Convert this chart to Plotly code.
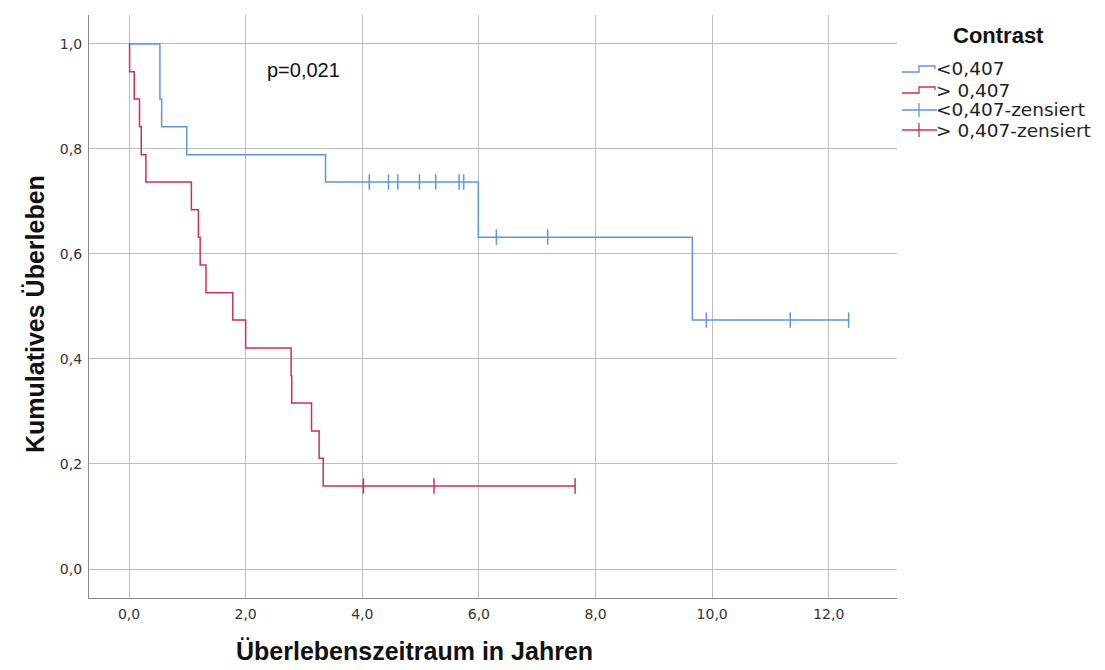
import plotly.graph_objects as go

# ---- data ----
blue_times = [0.0, 0.53, 0.56, 0.99, 3.37, 5.99, 9.66, 12.34]
blue_surv = [1.0, 0.895, 0.842, 0.789, 0.737, 0.632, 0.474, 0.474]
blue_cens_times = [4.12, 4.45, 4.61, 4.98, 5.26, 5.66, 5.74, 6.30, 7.18, 9.90, 11.34, 12.34]
blue_cens_surv = [0.737, 0.737, 0.737, 0.737, 0.737, 0.737, 0.737, 0.632, 0.632, 0.474, 0.474, 0.474]

red_times = [0.0, 0.01, 0.09, 0.18, 0.21, 0.29, 1.07, 1.19, 1.22, 1.32, 1.78, 2.00,
             2.78, 2.79, 3.13, 3.26, 3.33, 7.65]
red_surv = [1.0, 0.947, 0.895, 0.842, 0.789, 0.737, 0.684, 0.632, 0.579, 0.526, 0.474, 0.421,
            0.368, 0.316, 0.263, 0.211, 0.158, 0.158]
red_cens_times = [4.02, 5.23, 7.65]
red_cens_surv = [0.158, 0.158, 0.158]

legend_labels = ["<0,407", "> 0,407", "<0,407-zensiert", "> 0,407-zensiert"]
legend_title = "Contrast"
p_text = "p=0,021"
x_title = "Überlebenszeitraum in Jahren"
y_title = "Kumulatives Überleben"
x_ticks = [0, 2, 4, 6, 8, 10, 12]
y_ticks = [0, 0.2, 0.4, 0.6, 0.8, 1.0]

BLUE = "#5e97da"
RED = "#c8325a"

W, H = 1105, 670
L, R, T, B = 89, 208, 15, 72
PW, PH = W - L - R, H - T - B


def px(x):
    return (x - L) / PW


def py(y):
    return (H - B - y) / PH


fig = go.Figure()
fig.add_trace(go.Scatter(x=blue_times, y=blue_surv, mode="lines", line=dict(color=BLUE, width=1.5, shape="hv"),
                         showlegend=False, hoverinfo="skip"))
fig.add_trace(go.Scatter(x=red_times, y=red_surv, mode="lines", line=dict(color=RED, width=1.5, shape="hv"),
                         showlegend=False, hoverinfo="skip"))
fig.add_trace(go.Scatter(x=blue_cens_times, y=blue_cens_surv, mode="markers",
                         marker=dict(symbol="line-ns-open", size=11, color=BLUE, line=dict(color=BLUE, width=1.5)),
                         showlegend=False, hoverinfo="skip"))
fig.add_trace(go.Scatter(x=red_cens_times, y=red_cens_surv, mode="markers",
                         marker=dict(symbol="line-ns-open", size=11, color=RED, line=dict(color=RED, width=1.5)),
                         showlegend=False, hoverinfo="skip"))

shapes = []
annotations = []
# custom legend
rows_y = [69, 90, 110, 130]
colors = [BLUE, RED, BLUE, RED]
for i, (lab, yc, col) in enumerate(zip(legend_labels, rows_y, colors)):
    if i < 2:
        pts = [(902, yc + 3), (919, yc + 3), (919, yc - 3), (935, yc - 3), (935, yc)]
        path = "M " + " L ".join(f"{px(a):.5f},{py(b):.5f}" for a, b in pts)
        shapes.append(dict(type="path", xref="paper", yref="paper", path=path,
                           line=dict(color=col, width=1.3)))
    else:
        shapes.append(dict(type="line", xref="paper", yref="paper", x0=px(902), x1=px(937),
                           y0=py(yc), y1=py(yc), line=dict(color=col, width=1.3)))
        shapes.append(dict(type="line", xref="paper", yref="paper", x0=px(919), x1=px(919),
                           y0=py(yc - 7), y1=py(yc + 7), line=dict(color=col, width=1.3)))
    annotations.append(dict(text=lab, xref="paper", yref="paper", x=px(935), y=py(yc), xanchor="left",
                            yanchor="middle", showarrow=False, borderpad=0,
                            font=dict(family="DejaVu Sans", size=18.5, color="#222222")))

annotations.append(dict(text="<b>" + legend_title + "</b>", xref="paper", yref="paper", x=px(998), y=py(36),
                        xanchor="center", yanchor="middle", showarrow=False,
                        font=dict(family="Liberation Sans", size=22, color="#111111")))
annotations.append(dict(text=p_text, xref="paper", yref="paper", x=px(265), y=py(70), xanchor="left",
                        yanchor="middle", showarrow=False,
                        font=dict(family="Liberation Sans", size=20, color="#111111")))
annotations.append(dict(text="<b>" + x_title + "</b>", xref="paper", yref="paper", x=px(414), y=py(651),
                        xanchor="center", yanchor="middle", showarrow=False,
                        font=dict(family="Liberation Sans", size=25, color="#111111")))
annotations.append(dict(text="<b>" + y_title + "</b>", xref="paper", yref="paper", x=px(35), y=py(314),
                        xanchor="center", yanchor="middle", showarrow=False, textangle=-90,
                        font=dict(family="Liberation Sans", size=25, color="#111111")))

fig.update_layout(
    width=W, height=H,
    margin=dict(l=L, r=R, t=T, b=B, pad=0, autoexpand=False),
    plot_bgcolor="white", paper_bgcolor="white",
    shapes=shapes, annotations=annotations,
    showlegend=False,
)
fig.update_xaxes(
    range=[-0.686, 13.17], tickvals=x_ticks, ticktext=[f"{v:.1f}".replace(".", ",") for v in x_ticks],
    showgrid=True, gridcolor="#bdbdbd", gridwidth=1, zeroline=False, automargin=False,
    showline=True, linecolor="#8a8a8a", linewidth=1.3,
    ticks="", ticklabelstandoff=3, tickfont=dict(family="DejaVu Sans", size=14, color="#333333"),
)
fig.update_yaxes(
    range=[-0.0552, 1.055], tickvals=y_ticks, ticktext=[f"{v:.1f}".replace(".", ",") for v in y_ticks],
    showgrid=True, gridcolor="#bdbdbd", gridwidth=1, zeroline=False, automargin=False,
    showline=True, linecolor="#8a8a8a", linewidth=1.3,
    ticks="", ticklabelstandoff=3, tickfont=dict(family="DejaVu Sans", size=14, color="#333333"),
)

fig.write_html("out.html", config={"displayModeBar": False},
               post_script="document.body.style.margin='0px';")
